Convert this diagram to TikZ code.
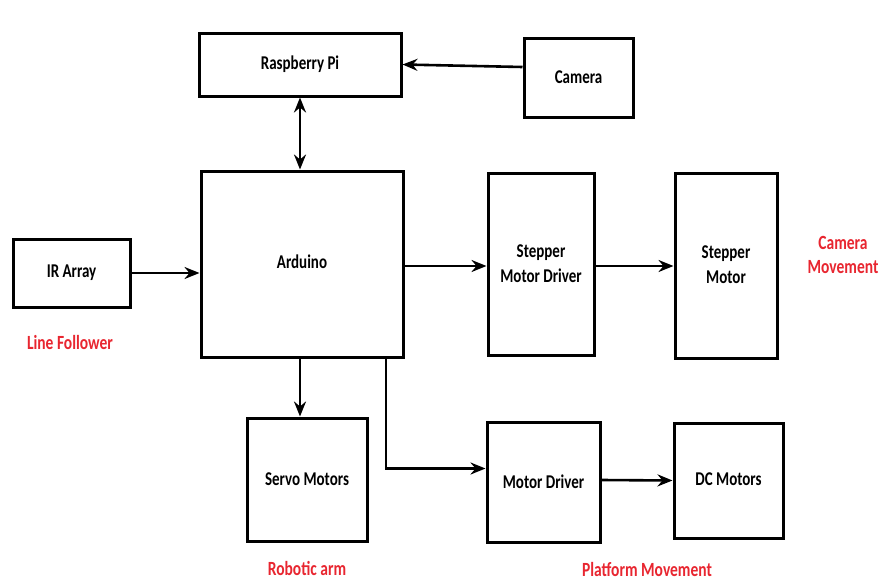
\documentclass[tikz,border=0pt]{standalone}
\usepackage{fontspec}
\usepackage{graphicx}
\setmainfont{Carlito}
\usetikzlibrary{arrows.meta,calc}
\definecolor{lblred}{RGB}{232,38,48}
\newcommand{\tall}[1]{\scalebox{1}[1.3]{#1}}
\begin{document}
\begin{tikzpicture}[x=1pt,y=-1pt,
  blk/.style={draw=black,line width=3pt,fill=white,inner sep=0pt,align=center,
    font=\fontsize{15}{26}\selectfont\bfseries},
  con/.style={line width=2.6pt,-{Stealth[length=15pt,width=12pt,inset=5pt]}},
  lbl/.style={text=lblred,align=center,font=\fontsize{15.5}{26}\selectfont\bfseries}]
\useasboundingbox (0,0) rectangle (879,581);
\node[blk,minimum width=202pt,minimum height=63pt] (rpi) at (300,64.5) {\tall{Raspberry Pi}};
\node[blk,minimum width=109pt,minimum height=79pt] (cam) at (578.5,77.5) {\tall{Camera}};
\node[blk,minimum width=202pt,minimum height=186pt] (ard) at (302,264) {\raisebox{4pt}{\tall{Arduino}}};
\node[blk,minimum width=117pt,minimum height=68pt] (ir) at (71.5,273) {\tall{IR Array}};
\node[blk,minimum width=106pt,minimum height=182pt] (smd) at (541,264) {\raisebox{-6pt}{\shortstack{\tall{Stepper}\\[5pt]\tall{Motor Driver}}}};
\node[blk,minimum width=102pt,minimum height=185pt] (sm) at (726,265.5) {\raisebox{2pt}{\shortstack{\tall{Stepper}\\[6pt]\tall{Motor}}}};
\node[blk,minimum width=120pt,minimum height=123pt] (servo) at (307,479.5) {\tall{Servo Motors}};
\node[blk,minimum width=113pt,minimum height=120pt] (md) at (543.5,482) {\tall{Motor Driver}};
\node[blk,minimum width=109pt,minimum height=115pt] (dc) at (728.5,480.5) {\raisebox{3pt}{\tall{DC Motors}}};
\node[lbl] (lf) at (70,343) {\tall{Line Follower}};
\node[lbl] (ra) at (307,568) {\tall{Robotic arm}};
\node[lbl] (pm) at (647,569) {\tall{Platform Movement}};
\node[lbl] (cm) at (843,255) {\shortstack{\tall{Camera}\\[7pt]\tall{Movement}}};
% connectors
\draw[con] ([yshift=10.5pt]cam.west) -- (rpi.east);
\draw[line width=2.6pt,{Stealth[length=15pt,width=12pt,inset=5pt]}-{Stealth[length=15pt,width=12pt,inset=5pt]}] (rpi.south) -- (rpi.south |- ard.north);
\draw[con] (ir.east) -- (ir.east -| ard.west);
\draw[con] ([yshift=-2pt]ard.east) -- ([yshift=-2pt]smd.west);
\draw[con] ([yshift=-2pt]smd.east) -- ([yshift=-2pt]smd.east -| sm.west);
\coordinate (a1) at ([xshift=-2pt]ard.south);
\draw[con] (a1) -- (a1 |- servo.north);
\coordinate (a2) at ([xshift=84pt]ard.south);
\coordinate (a3) at ($(a2)+(0,110)$);
\draw[con] (a2) -- (a3) -- (a3 -| md.west);
\draw[con] ([yshift=2pt]md.east) -- (dc.west);
\end{tikzpicture}
\end{document}
